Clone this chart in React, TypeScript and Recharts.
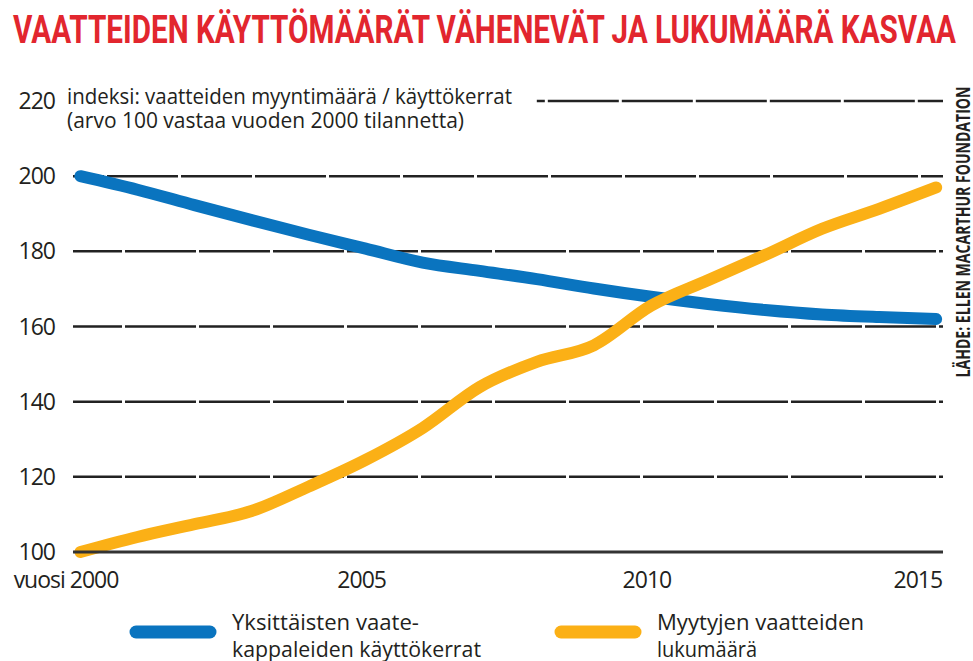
import React from 'react';
import { LineChart, Line, XAxis, YAxis, ReferenceLine } from 'recharts';

// ---- data ----
const years = [2000, 2001, 2002, 2003, 2004, 2005, 2006, 2007, 2008, 2009, 2010, 2011, 2012, 2013, 2014, 2015];
const kayttokerrat = [200, 196.4, 192.3, 188.3, 184.4, 180.7, 177, 174.8, 172.6, 170.1, 167.9, 166, 164.4, 163.2, 162.5, 162];
const myyntimaara = [100, 104, 107.4, 110.9, 117.4, 124.5, 133, 143.9, 150.6, 155, 165.5, 172.3, 179, 186, 191.3, 197];
const xTicks = [2000, 2005, 2010, 2015];
const yTicks = [100, 120, 140, 160, 180, 200, 220];

const title = 'VAATTEIDEN KÄYTTÖMÄÄRÄT VÄHENEVÄT JA LUKUMÄÄRÄ KASVAA';
const noteLines = ['indeksi: vaatteiden myyntimäärä / käyttökerrat', '(arvo 100 vastaa vuoden 2000 tilannetta)'];
const source = 'LÄHDE: ELLEN MACARTHUR FOUNDATION';

const series = [
  { key: 'kayttokerrat', color: '#0A74BF', label: ['Yksittäisten vaate-', 'kappaleiden käyttökerrat'] },
  { key: 'myyntimaara', color: '#FBB016', label: ['Myytyjen vaatteiden', 'lukumäärä'] },
];

const data = years.map((y, i) => ({ year: y, kayttokerrat: kayttokerrat[i], myyntimaara: myyntimaara[i] }));

const TEXT = '#231f20';
const FONT = '"Open Sans", "Noto Sans", sans-serif';

const XTick = (props: any) => {
  const { x, y, payload } = props;
  const v = payload.value;
  let anchor: 'start' | 'middle' | 'end' = 'middle';
  let dx = -4;
  let label = String(v);
  if (v === xTicks[0]) { anchor = 'end'; dx = 38; label = 'vuosi ' + v; }
  if (v === xTicks[xTicks.length - 1]) { anchor = 'end'; dx = 6; }
  return (
    <text x={x + dx} y={y + 36} textAnchor={anchor} fontSize={23} fill={TEXT} fontFamily={FONT} letterSpacing={-1}>
      {label}
    </text>
  );
};

export default function App() {
  const gridStroke = '#222';
  return (
    <div style={{ position: 'absolute', left: 0, top: 0, width: 973, height: 661, background: '#fff', overflow: 'hidden' }}>
      <LineChart width={973} height={661} data={data} margin={{ top: 101, right: 30, bottom: 69, left: 0 }}>
        <XAxis
          dataKey="year"
          type="number"
          domain={[1999.87, 2015.12]}
          ticks={xTicks}
          tickLine={false}
          tickSize={0}
          tickMargin={0}
          height={40}
          axisLine={{ stroke: '#333', strokeWidth: 3 }}
          tick={<XTick />}
          interval={0}
        />
        <YAxis
          type="number"
          domain={[100, 220]}
          ticks={yTicks}
          tickLine={false}
          axisLine={false}
          tickSize={0}
          tickMargin={18}
          width={73}
          interval={0}
          tick={{ fontSize: 23, fill: TEXT, fontFamily: FONT, letterSpacing: -1 }}
        />
        {yTicks.filter((t) => t > 100 && t < 220).map((t) => (
          <ReferenceLine
            key={t}
            y={t}
            stroke={gridStroke}
            strokeWidth={2.5}
            strokeDasharray="71 3"
            strokeDashoffset={t === 200 ? 40 : 22}
            zIndex={-50}
          />
        ))}
        <ReferenceLine
          segment={[{ x: 2008, y: 220 }, { x: 2015.12, y: 220 }]}
          stroke={gridStroke}
          strokeWidth={2.5}
          strokeDasharray="71 3"
          strokeDashoffset={63}
          zIndex={-50}
        />
        {series.map((s) => (
          <Line
            key={s.key}
            dataKey={s.key}
            type="monotone"
            stroke={s.color}
            strokeWidth={12}
            strokeLinecap="round"
            strokeLinejoin="round"
            dot={false}
            activeDot={false}
            isAnimationActive={false}
          />
        ))}
      </LineChart>
      <svg width={973} height={661} style={{ position: 'absolute', left: 0, top: 0, pointerEvents: 'none' }}>
        <text x={13} y={43} fontSize={39} fontWeight={700} fill="#E2262E" fontFamily="Roboto, sans-serif"
          textLength={943} lengthAdjust="spacingAndGlyphs">{title}</text>
        <text x={67} y={104} fontSize={21} fill={TEXT} fontFamily={FONT} textLength={445} lengthAdjust="spacingAndGlyphs">{noteLines[0]}</text>
        <text x={67} y={128} fontSize={21} fill={TEXT} fontFamily={FONT} textLength={397} lengthAdjust="spacingAndGlyphs">{noteLines[1]}</text>
        <text transform="translate(970,232) rotate(-90)" textAnchor="middle" fontSize={20} fontWeight={700} fill={TEXT}
          fontFamily={FONT} textLength={291} lengthAdjust="spacingAndGlyphs">{source}</text>
        {series.map((s, i) => {
          const x0 = i === 0 ? 130 : 555;
          const widths = i === 0 ? [187, 249] : [207, 100];
          return (
            <g key={s.key}>
              <line x1={x0 + 6} x2={x0 + 80} y1={632} y2={632} stroke={s.color} strokeWidth={13} strokeLinecap="round" />
              {s.label.map((ln, j) => (
                <text key={j} x={x0 + 102} y={630 + j * 27} fontSize={22} fill={TEXT} fontFamily={FONT}
                  textLength={widths[j]} lengthAdjust="spacingAndGlyphs">{ln}</text>
              ))}
            </g>
          );
        })}
      </svg>
    </div>
  );
}
